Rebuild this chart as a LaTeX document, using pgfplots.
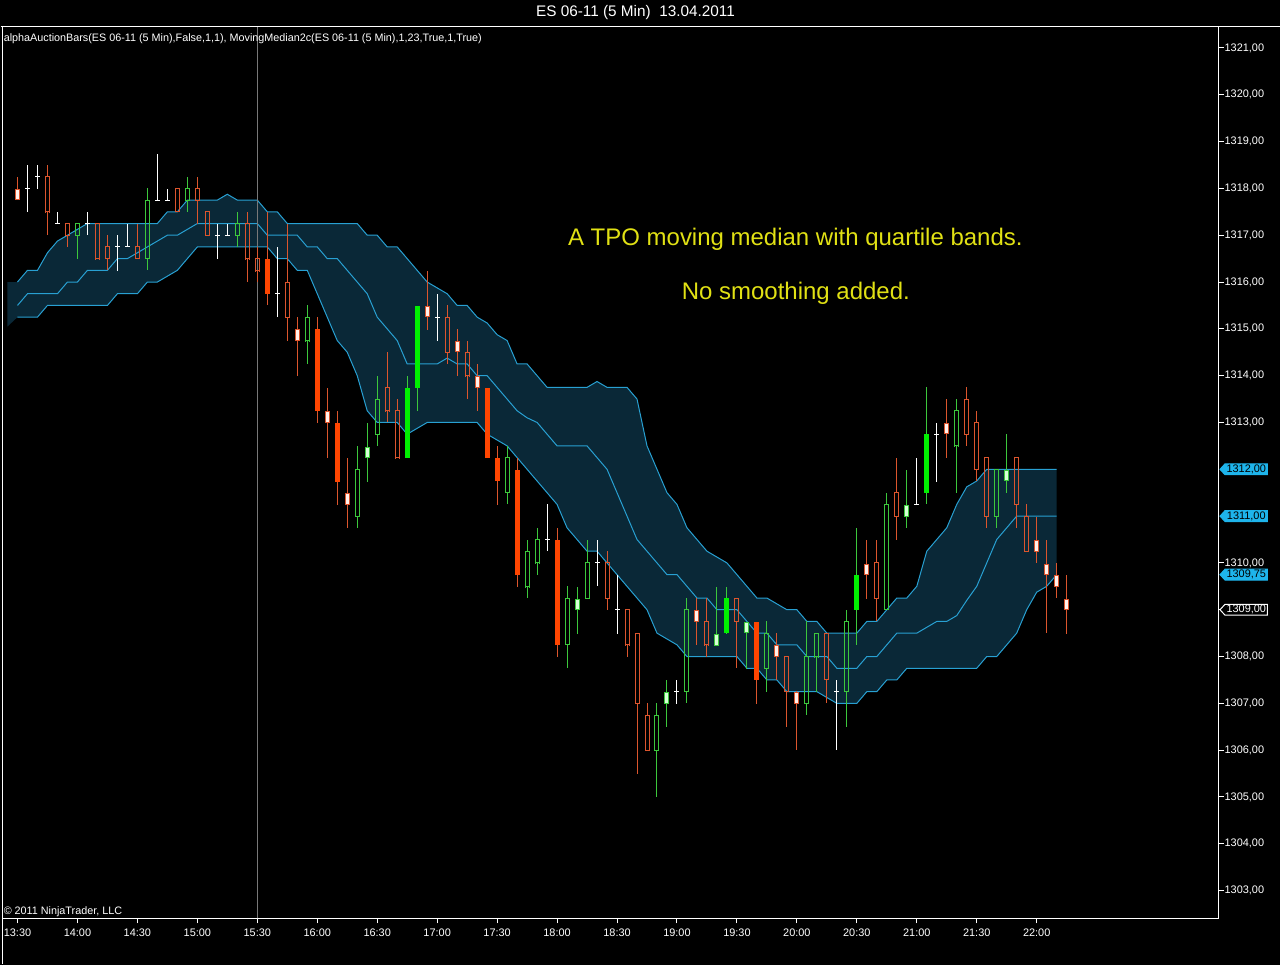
\documentclass[border=0pt]{standalone}
\usepackage{fontspec}
\setmainfont{Liberation Sans}
\usepackage{pgfplots}
\usepackage{pgfplotstable}
\pgfplotsset{compat=1.18}
\usepgfplotslibrary{fillbetween}

\definecolor{bandfill}{RGB}{10,40,55}
\definecolor{bandline}{RGB}{40,160,210}
\definecolor{tagblue}{RGB}{30,180,235}
\definecolor{redc}{RGB}{220,85,45}
\definecolor{redf}{RGB}{255,69,0}
\definecolor{greenc}{RGB}{60,200,60}
\definecolor{greenf}{RGB}{0,240,0}
\definecolor{wrfill}{RGB}{255,242,236}
\definecolor{wgfill}{RGB}{215,255,215}
\definecolor{annot}{RGB}{225,225,20}
\definecolor{cursorc}{RGB}{120,120,120}

\newcommand\tickfont{\fontsize{8.2pt}{9pt}\selectfont}
\newcommand\smallfont{\fontsize{8.1pt}{9pt}\selectfont}

\pgfplotsset{
  wick/.style={draw=none, error bars/.cd, y dir=both, y explicit, error mark=none,
    error bar style={draw=#1, line width=0.75pt}},
  wickp/.style={draw=none, error bars/.cd, y dir=plus, y explicit, error mark=none,
    error bar style={draw=#1, line width=0.75pt}},
  wickm/.style={draw=none, error bars/.cd, y dir=minus, y explicit, error mark=none,
    error bar style={draw=#1, line width=0.75pt}},
  hbar/.style={draw=none, error bars/.cd, x dir=both, x fixed=0.25, error mark=none,
    error bar style={draw=#1, line width=0.75pt}},
  body/.style={draw=none, error bars/.cd, y dir=both, y explicit, error mark=none,
    error bar style={draw=#1, line width=3.75pt}},
  inner/.style={draw=none, error bars/.cd, y dir=both, y explicit, error mark=none,
    error bar style={draw=#1, line width=2.25pt}},
}

% price tag drawn from a named anchor point: point, fill, border, text colour, label
\newcommand\pricetag[5]{%
  \draw[fill=#2, draw=#3, line width=0.75pt] (#1) ++(1.1pt,0pt) -- ++(3.75pt,4.1pt) -- ++(31.75pt,0pt) -- ++(0pt,-8.2pt) -- ++(-31.75pt,0pt) -- cycle;
  \node[text=#4, font=\tickfont, inner sep=0pt] at ([xshift=20.8pt]#1) {#5};
}

\pgfplotstableread{
i U M L
-1 1316 1315.5 1315.05
0 1316 1315.5 1315.25
1 1316.25 1315.75 1315.25
2 1316.25 1315.75 1315.25
3 1316.625 1315.75 1315.5
4 1316.875 1315.75 1315.5
5 1317 1316 1315.5
6 1317.125 1316 1315.5
7 1317.25 1316.25 1315.5
8 1317.25 1316.25 1315.5
9 1317.25 1316.25 1315.5
10 1317.25 1316.5 1315.75
11 1317.25 1316.5 1315.75
12 1317.25 1316.625 1315.75
13 1317.25 1316.75 1316
14 1317.25 1316.875 1316
15 1317.5 1317 1316.125
16 1317.5 1317 1316.25
17 1317.75 1317.125 1316.5
18 1317.75 1317.25 1316.75
19 1317.75 1317.25 1316.75
20 1317.75 1317.25 1316.75
21 1317.875 1317.25 1316.75
22 1317.75 1317.25 1316.75
23 1317.75 1317.25 1316.75
24 1317.75 1317.25 1316.75
25 1317.5 1317 1316.75
26 1317.5 1317 1316.5
27 1317.25 1317 1316.5
28 1317.25 1317 1316.25
29 1317.25 1316.75 1316.25
30 1317.25 1316.75 1315.75
31 1317.25 1316.5 1315.25
32 1317.25 1316.5 1314.75
33 1317.25 1316.25 1314.5
34 1317.25 1316 1314
35 1317 1315.75 1313.25
36 1317 1315.25 1313
37 1316.75 1315 1313
38 1316.75 1314.75 1313
39 1316.5 1314.25 1312.75
40 1316.25 1314.25 1312.875
41 1316 1314.25 1313
42 1315.875 1314.25 1313
43 1315.75 1314.375 1313
44 1315.5 1314.25 1313
45 1315.5 1314.25 1313
46 1315.25 1314 1313
47 1315.125 1314 1312.75
48 1314.875 1313.75 1312.625
49 1314.75 1313.5 1312.5
50 1314.25 1313.25 1312.25
51 1314.25 1313.1 1312
52 1314 1313 1311.75
53 1313.75 1312.75 1311.5
54 1313.75 1312.5 1311.25
55 1313.75 1312.5 1310.75
56 1313.75 1312.5 1310.5
57 1313.75 1312.5 1310.25
58 1313.875 1312.25 1310.25
59 1313.75 1312 1310
60 1313.75 1311.5 1309.75
61 1313.75 1311 1309.5
62 1313.5 1310.5 1309.25
63 1312.5 1310.25 1309
64 1312 1310 1308.5
65 1311.5 1309.75 1308.375
66 1311.25 1309.75 1308.25
67 1310.75 1309.5 1308
68 1310.5 1309.25 1308
69 1310.25 1309.25 1308
70 1310.125 1309 1308
71 1310 1309 1308
72 1309.75 1309 1308
73 1309.5 1308.75 1307.75
74 1309.25 1308.5 1307.75
75 1309.25 1308.5 1307.5
76 1309.125 1308.25 1307.5
77 1309 1308.25 1307.25
78 1309 1308.25 1307.25
79 1308.75 1308 1307.25
80 1308.75 1308 1307.25
81 1308.5 1308 1307.125
82 1308.5 1307.75 1307
83 1308.5 1307.75 1307
84 1308.5 1307.75 1307
85 1308.75 1308 1307.25
86 1308.75 1308 1307.25
87 1309 1308.25 1307.5
88 1309.25 1308.5 1307.5
89 1309.25 1308.5 1307.75
90 1309.5 1308.5 1307.75
91 1310.25 1308.625 1307.75
92 1310.5 1308.75 1307.75
93 1310.75 1308.75 1307.75
94 1311.25 1308.875 1307.75
95 1311.625 1309.2 1307.75
96 1311.75 1309.5 1307.75
97 1312 1310 1308
98 1312 1310.5 1308
99 1312 1310.75 1308.25
100 1312 1311 1308.5
101 1312 1311 1309
102 1312 1311 1309.375
103 1312 1311 1309.5
104 1312 1311 1309.75
}\band

% red hollow
\pgfplotstableread{
i lo hi bl bh
3 1317 1318.5 1317.5 1318.25
5 1316.75 1317.25 1317 1317.25
8 1316.5 1317.25 1316.5 1317.25
9 1316.25 1317 1316.5 1316.75
12 1316.5 1317.25 1316.5 1316.75
16 1317.5 1318 1317.5 1318
18 1317.25 1318.25 1317.75 1318
19 1317 1317.5 1317 1317.5
23 1316 1317.5 1316.5 1317.25
24 1316 1316.75 1316.25 1316.5
27 1314.75 1317.25 1315.25 1316
37 1313 1314.5 1313.25 1313.75
38 1312.25 1313.5 1312.25 1313.25
43 1314.25 1315.5 1314.5 1315.25
45 1313.5 1314.75 1314 1314.5
59 1309 1310.25 1309.25 1310
61 1308 1309 1308.25 1309
62 1305.5 1308.5 1307 1308.5
63 1306 1307 1306 1306.75
69 1308 1309.25 1308.25 1308.75
72 1307.75 1309.25 1308.75 1309.25
77 1306.5 1308 1307.25 1308
81 1307 1308.5 1307.5 1308.5
86 1308.75 1310.5 1309.25 1310
88 1310.5 1312.25 1311 1311.5
95 1312.5 1313.75 1312.75 1313.5
96 1311.75 1313.25 1312 1313
97 1310.75 1312.25 1311 1312.25
100 1310.75 1312.25 1311.25 1312.25
101 1310.25 1311.25 1310.25 1311
}\tblR

% red filled
\pgfplotstableread{
i lo hi bl bh
25 1315.5 1317.5 1315.75 1316.5
30 1313 1315.25 1313.25 1315
32 1311.25 1313.25 1311.75 1313
47 1312.25 1313.75 1312.25 1313.75
48 1311.25 1312.5 1311.75 1312.25
50 1309.5 1312.25 1309.75 1312
54 1308 1310.75 1308.25 1310.5
74 1307 1308.75 1307.5 1308.75
}\tblRF

% white body, red outline
\pgfplotstableread{
i lo hi bl bh
0 1317.75 1318.25 1317.75 1318
28 1314 1315.25 1314.75 1315
31 1312.25 1313.75 1313 1313.25
33 1310.75 1312.25 1311.25 1311.5
41 1315 1316.25 1315.25 1315.5
44 1314 1315 1314.5 1314.75
46 1313.25 1314.25 1313.75 1314
68 1308.25 1309.25 1308.75 1309
76 1307.5 1308.5 1308 1308.25
78 1306 1307.25 1307 1307.25
85 1309.25 1310.5 1309.75 1310
93 1312.25 1313.5 1312.75 1313
102 1310 1311 1310.25 1310.5
103 1308.5 1310.5 1309.75 1310
104 1309.25 1310 1309.5 1309.75
105 1308.5 1309.75 1309 1309.25
}\tblWR

% green hollow
\pgfplotstableread{
i lo hi bl bh
6 1316.5 1317.25 1317 1317.25
13 1316.25 1318 1316.5 1317.75
17 1317.5 1318.25 1317.75 1318
22 1316.75 1317.5 1317 1317.25
29 1314.25 1315.5 1314.75 1315.25
34 1310.75 1312.5 1311 1312
36 1312.5 1314 1312.75 1313.5
49 1311.25 1312.5 1311.5 1312.25
51 1309.25 1310.5 1309.5 1310.25
52 1309.75 1310.75 1310 1310.5
55 1307.75 1309.5 1308.25 1309.25
57 1309.25 1310.5 1309.25 1310
64 1305 1307 1306 1306.75
67 1307 1309.25 1307.25 1309
75 1307.25 1308.75 1307.75 1308.5
79 1306.75 1308.75 1307 1308
80 1307.25 1308.5 1308 1308.5
83 1306.5 1309 1307.25 1308.75
87 1309 1311.5 1309 1311.25
94 1311.5 1313.5 1312.5 1313.25
98 1310.75 1312 1311 1312
}\tblG

% green filled
\pgfplotstableread{
i lo hi bl bh
39 1312.25 1314 1312.25 1313.75
40 1313.25 1315.5 1313.75 1315.5
71 1308.5 1309.5 1308.5 1309.25
84 1308.25 1310.75 1309 1309.75
91 1311.25 1313.75 1311.5 1312.75
}\tblGF

% light body, green outline
\pgfplotstableread{
i lo hi bl bh
35 1311.75 1313 1312.25 1312.5
56 1308.5 1309.5 1309 1309.25
65 1306.5 1307.5 1307 1307.25
70 1308.25 1309.5 1308.25 1308.5
73 1307.75 1308.75 1308.5 1308.75
89 1310.75 1312 1311 1311.25
99 1311.5 1312.75 1311.75 1312
}\tblWG

% dojis
\pgfplotstableread{
i lo hi b
1 1317.5 1318.5 1318
2 1318 1318.5 1318.25
4 1317.25 1317.5 1317.25
7 1317 1317.5 1317.25
10 1316.25 1317 1316.75
11 1316.75 1317.25 1316.75
14 1317.75 1318.75 1317.75
15 1317.75 1318 1317.75
20 1316.5 1317.25 1317
21 1317 1317.25 1317
26 1315.25 1316.75 1315.75
42 1314.75 1315.75 1315.25
53 1310.25 1311.25 1310.5
58 1309.5 1310.5 1310
60 1308.5 1309.75 1309
66 1307 1307.5 1307.25
82 1306 1307.5 1307.25
90 1311.25 1312.25 1311.25
92 1311.75 1313 1312.75
}\tblD

\pagecolor{black}
\begin{document}
\begin{tikzpicture}
\path (0pt,0pt) rectangle (960pt,-723.75pt);
\node[white, font=\fontsize{11.5pt}{13pt}\selectfont] at (476.6pt,-9.75pt) {ES 06-11 (5 Min)\ \ 13.04.2011};
\draw[white, line width=0.75pt] (0pt,-20.25pt) -- (960pt,-20.25pt);
\draw[white, line width=0.75pt] (1.5pt,-20.25pt) -- (1.5pt,-723.75pt);

\begin{axis}[
  at={(1.5pt,-20.25pt)}, anchor=north west,
  scale only axis, width=912.75pt, height=669pt,
  xmin=-1.5, xmax=120.2, ymin=1302.409, ymax=1321.448,
  clip=false,
  axis line style={white, line width=0.75pt},
  tick style={white, line width=0.75pt},
  tick align=outside, major tick length=3.75pt,
  xtick pos=bottom, ytick pos=right, yticklabel pos=right,
  xtick={0,6,...,102},
  xticklabels={13:30,14:00,14:30,15:00,15:30,16:00,16:30,17:00,17:30,18:00,18:30,19:00,19:30,20:00,20:30,21:00,21:30,22:00},
  ytick={1303,1304,1305,1306,1307,1308,1309,1310,1313,1314,1315,1316,1317,1318,1319,1320,1321},
  ticklabel style={text=white, font=\tickfont},
  xticklabel style={inner sep=1pt, yshift=-3pt},
  yticklabel style={anchor=west, inner sep=0.6pt,
    /pgf/number format/fixed, /pgf/number format/fixed zerofill,
    /pgf/number format/precision=2, /pgf/number format/use comma,
    /pgf/number format/1000 sep={}, /pgf/number format/assume math mode=true},
]
% bands
\addplot[draw=none, name path=U] table[x=i, y=U] {\band};
\addplot[draw=none, name path=L] table[x=i, y=L] {\band};
\addplot[fill=bandfill, draw=none] fill between[of=U and L];
\addplot[bandline, line width=0.75pt, restrict x to domain=-0.5:200] table[x=i, y=U] {\band};
\addplot[bandline, line width=0.75pt, restrict x to domain=-0.5:200] table[x=i, y=M] {\band};
\addplot[bandline, line width=0.75pt, restrict x to domain=-0.5:200] table[x=i, y=L] {\band};
% cursor line
\addplot[cursorc, line width=0.75pt] coordinates {(24,1302.409) (24,1321.448)};

% hollow candles: wicks above and below the body, outline only
\addplot[wickp=redc] table[x=i, y=bh, y error expr=\thisrow{hi}-\thisrow{bh}] {\tblR};
\addplot[wickm=redc] table[x=i, y=bl, y error expr=\thisrow{bl}-\thisrow{lo}] {\tblR};
\addplot[wick=redc] table[x expr=\thisrow{i}-0.2, y expr=(\thisrow{bl}+\thisrow{bh})/2, y error expr=(\thisrow{bh}-\thisrow{bl})/2+0.0107] {\tblR};
\addplot[wick=redc] table[x expr=\thisrow{i}+0.2, y expr=(\thisrow{bl}+\thisrow{bh})/2, y error expr=(\thisrow{bh}-\thisrow{bl})/2+0.0107] {\tblR};
\addplot[hbar=redc] table[x=i, y=bh] {\tblR};
\addplot[hbar=redc] table[x=i, y=bl] {\tblR};

\addplot[wickp=greenc] table[x=i, y=bh, y error expr=\thisrow{hi}-\thisrow{bh}] {\tblG};
\addplot[wickm=greenc] table[x=i, y=bl, y error expr=\thisrow{bl}-\thisrow{lo}] {\tblG};
\addplot[wick=greenc] table[x expr=\thisrow{i}-0.2, y expr=(\thisrow{bl}+\thisrow{bh})/2, y error expr=(\thisrow{bh}-\thisrow{bl})/2+0.0107] {\tblG};
\addplot[wick=greenc] table[x expr=\thisrow{i}+0.2, y expr=(\thisrow{bl}+\thisrow{bh})/2, y error expr=(\thisrow{bh}-\thisrow{bl})/2+0.0107] {\tblG};
\addplot[hbar=greenc] table[x=i, y=bh] {\tblG};
\addplot[hbar=greenc] table[x=i, y=bl] {\tblG};

% wicks of the other candles
\addplot[wick=redc] table[x=i, y expr=(\thisrow{lo}+\thisrow{hi})/2, y error expr=(\thisrow{hi}-\thisrow{lo})/2] {\tblRF};
\addplot[wick=redc] table[x=i, y expr=(\thisrow{lo}+\thisrow{hi})/2, y error expr=(\thisrow{hi}-\thisrow{lo})/2] {\tblWR};
\addplot[wick=greenc] table[x=i, y expr=(\thisrow{lo}+\thisrow{hi})/2, y error expr=(\thisrow{hi}-\thisrow{lo})/2] {\tblGF};
\addplot[wick=greenc] table[x=i, y expr=(\thisrow{lo}+\thisrow{hi})/2, y error expr=(\thisrow{hi}-\thisrow{lo})/2] {\tblWG};
\addplot[wick=white] table[x=i, y expr=(\thisrow{lo}+\thisrow{hi})/2, y error expr=(\thisrow{hi}-\thisrow{lo})/2] {\tblD};
\addplot[hbar=white] table[x=i, y=b] {\tblD};

% filled bodies
\addplot[body=redf] table[x=i, y expr=(\thisrow{bl}+\thisrow{bh})/2, y error expr=(\thisrow{bh}-\thisrow{bl})/2] {\tblRF};
\addplot[body=redc] table[x=i, y expr=(\thisrow{bl}+\thisrow{bh})/2, y error expr=(\thisrow{bh}-\thisrow{bl})/2] {\tblWR};
\addplot[inner=wrfill] table[x=i, y expr=(\thisrow{bl}+\thisrow{bh})/2, y error expr={max((\thisrow{bh}-\thisrow{bl})/2-0.0214,0)}] {\tblWR};
\addplot[body=greenf] table[x=i, y expr=(\thisrow{bl}+\thisrow{bh})/2, y error expr=(\thisrow{bh}-\thisrow{bl})/2] {\tblGF};
\addplot[body=greenc] table[x=i, y expr=(\thisrow{bl}+\thisrow{bh})/2, y error expr=(\thisrow{bh}-\thisrow{bl})/2] {\tblWG};
\addplot[inner=wgfill] table[x=i, y expr=(\thisrow{bl}+\thisrow{bh})/2, y error expr={max((\thisrow{bh}-\thisrow{bl})/2-0.0214,0)}] {\tblWG};

\coordinate (tagA) at (axis cs:120.2,1312);
\coordinate (tagB) at (axis cs:120.2,1311);
\coordinate (tagC) at (axis cs:120.2,1309.75);
\coordinate (tagD) at (axis cs:120.2,1309);
\end{axis}

% price tags
\pricetag{tagA}{tagblue}{tagblue}{black}{1312,00}
\pricetag{tagB}{tagblue}{tagblue}{black}{1311,00}
\pricetag{tagC}{tagblue}{tagblue}{black}{1309,75}
\pricetag{tagD}{black}{white}{white}{1309,00}

\node[anchor=west, white, font=\smallfont, inner sep=0pt] at (2.25pt,-29.25pt) {alphaAuctionBars(ES 06-11 (5 Min),False,1,1), MovingMedian2c(ES 06-11 (5 Min),1,23,True,1,True)};
\node[anchor=west, white, font=\smallfont, inner sep=0pt] at (2.25pt,-684pt) {\textcopyright{} 2011 NinjaTrader, LLC};
\node[text=annot, font=\fontsize{18pt}{20pt}\selectfont] at (596.6pt,-179.5pt) {A TPO moving median with quartile bands.};
\node[text=annot, font=\fontsize{18pt}{20pt}\selectfont] at (597pt,-220.3pt) {No smoothing added.};
\end{tikzpicture}
\end{document}
